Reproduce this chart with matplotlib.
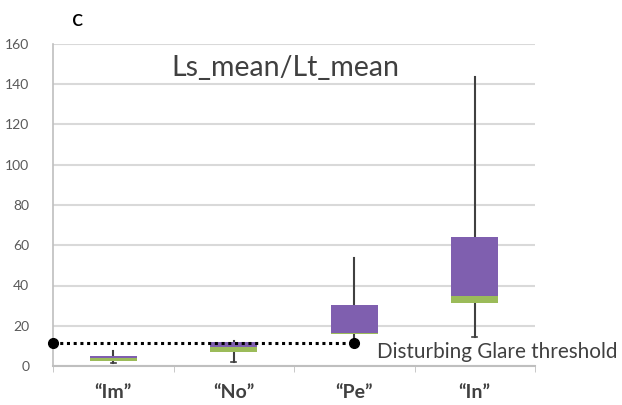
import matplotlib
matplotlib.use("Agg")
import matplotlib.pyplot as plt
import numpy as np

categories = ["\u201cIm\u201d", "\u201cNo\u201d", "\u201cPe\u201d", "\u201cIn\u201d"]
whisker_min = [1.5, 2.0, 12.0, 14.5]
q1 = [2.5, 7.1, 16.0, 31.2]
median = [4.2, 9.6, 16.6, 34.8]
q3 = [5.0, 12.1, 30.5, 64.2]
whisker_max = [7.5, 12.5, 53.7, 143.8]
threshold = 11.6
threshold_end = 2  # index of category where threshold line ends
yticks = [0, 20, 40, 60, 80, 100, 120, 140, 160]

green = "#9BBB59"
purple = "#7F5FAF"
dark = "#404040"
grid_c = "#D9D9D9"

plt.rcParams['font.family'] = ['Lato', 'DejaVu Sans']

fig = plt.figure(figsize=(6.22, 4.05), dpi=100)
ax = fig.add_axes([53/622, 1-366/405, (535-53)/622, (366-44)/405])

x = np.arange(len(categories))
w = 0.39
lower = np.array(median) - np.array(q1)
upper = np.array(q3) - np.array(median)

# whiskers
for i in range(len(categories)):
    ax.plot([x[i], x[i]], [whisker_min[i], whisker_max[i]], color=dark, lw=1.5, zorder=2)
    ax.plot([x[i]-0.02, x[i]+0.02], [whisker_min[i]]*2, color=dark, lw=1.2, zorder=2)

ax.bar(x, lower, bottom=q1, width=w, color=green, zorder=3)
ax.bar(x, upper, bottom=median, width=w, color=purple, zorder=3)

# threshold line
ax.plot([-0.5, x[threshold_end]], [threshold, threshold], color="black", lw=2.2,
        linestyle=(0, (1, 1.2)), zorder=4, clip_on=False)
ax.plot([-0.5, x[threshold_end]], [threshold, threshold], 'o', color="black", ms=7,
        zorder=5, clip_on=False)
ax.text(2.19, threshold - 4.6, "Disturbing Glare threshold", fontsize=14.9,
        color="#404040", va="center", ha="left", clip_on=False)

ax.set_xlim(-0.5, 3.5)
ax.set_ylim(0, 160)
ax.set_yticks(yticks)
ax.set_yticklabels([str(v) for v in yticks], fontsize=10, color="#595959")
ax.yaxis.grid(True, color=grid_c, lw=1.5)
ax.set_axisbelow(True)
ax.set_xticks(x)
ax.set_xticklabels(categories, fontsize=14, fontweight="bold", color="#404040")
ax.tick_params(axis="x", length=0, pad=13)
ax.tick_params(axis="y", length=0, pad=17)
ax.set_xticks(np.arange(-0.5, 3.6, 1), minor=True)
ax.tick_params(axis="x", which="minor", length=4, color="#BFBFBF", direction="out")

for s in ["top", "right"]:
    ax.spines[s].set_visible(False)
ax.spines["left"].set_color("#BFBFBF")
ax.spines["bottom"].set_color("#BFBFBF")
ax.spines["left"].set_linewidth(1.2)
ax.spines["bottom"].set_linewidth(1.5)

ax.text(0.482, 0.925, "Ls_mean/Lt_mean", transform=ax.transAxes, fontsize=20.5,
        color="#404040", ha="center", va="center")
fig.text(78/622, 1-19/405, "c", fontsize=17, color="black", ha="center", va="center")

fig.savefig("out.png", dpi=100)
